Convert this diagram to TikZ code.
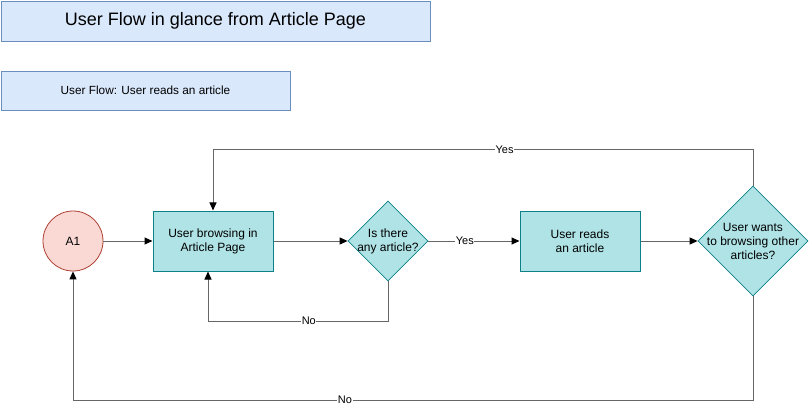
\documentclass[tikz,border=0pt]{standalone}
\usepackage{fontspec}
\setmainfont{Liberation Sans}
\usetikzlibrary{shapes.geometric,arrows.meta}
\definecolor{hdrfill}{HTML}{DAE8FC}
\definecolor{hdrline}{HTML}{6C8EBF}
\definecolor{procfill}{HTML}{B0E3E6}
\definecolor{procline}{HTML}{0E8088}
\definecolor{startfill}{HTML}{FAD9D5}
\definecolor{startline}{HTML}{AE4132}
\definecolor{edgecol}{HTML}{666666}
\tikzset{
  x=1pt, y=-1pt,
  header/.style={draw=hdrline, fill=hdrfill, line width=0.8pt, inner sep=0pt, anchor=north west},
  procbox/.style={draw=procline, fill=procfill, line width=1pt, minimum width=120pt, minimum height=60pt, inner sep=0pt, align=center, font=\fontsize{12}{14}\selectfont},
  decision/.style={diamond, draw=procline, fill=procfill, line width=0.8pt, inner sep=0pt, aspect=1},
  dtext/.style={align=center, inner sep=0pt, font=\fontsize{12}{14}\selectfont},
  startnode/.style={circle, draw=startline, fill=startfill, line width=0.8pt, minimum size=60pt, inner sep=0pt, font=\fontsize{12}{14}\selectfont},
  flow/.style={draw=edgecol, line width=1pt, -{Triangle[length=8pt,width=7pt,fill=black,color=black]}},
  edgelabel/.style={fill=white, inner sep=0.5pt, font=\fontsize{11}{13}\selectfont}
}
\begin{document}
\begin{tikzpicture}
\useasboundingbox (0,0) rectangle (809,409);
\fill[white] (0,0) rectangle (809,409);

% headers
\node[header, minimum width=429pt, minimum height=40pt] (title) at (1,1) {};
\node[font=\fontsize{18}{21}\selectfont] (titletext) at (215.5,21) {User Flow in glance from Article Page};
\node[header, minimum width=289pt, minimum height=39pt] (sub) at (1,71) {};
\node[font=\fontsize{11.8}{14}\selectfont] (subtext) at (145.5,90.5) {User Flow: User reads an article};

% flow nodes
\node[startnode] (a1) at (73,241) {A1};
\node[procbox] (browse) at (213,241) {User browsing in\\Article Page};
\node[decision, minimum size=80pt] (any) at (388,241) {};
\node[dtext] (anytext) at (any.center) {Is there\\any article?};
\node[procbox] (reads) at (580,241) {User reads\\an article};
\node[decision, minimum size=110pt] (more) at (753,241) {};
\node[dtext] (moretext) at (more.center) {User wants\\to browsing other\\articles?};

% helper points for the loops
\coordinate (nobend1) at (388,321);
\coordinate (nobend2) at (208,321);
\coordinate (yesbend1) at (753,150);
\coordinate (yesbend2) at (213,150);
\coordinate (backbend1) at (753,400);
\coordinate (backbend2) at (73,400);

% connectors
\draw[flow] (a1) -- (browse);
\draw[flow] (browse) -- (any);
\draw[flow] (any) -- node[edgelabel, pos=0.4] {Yes} (reads);
\draw[flow] (reads) -- (more);
\draw[flow] (any.south) -- (nobend1) -- node[edgelabel, pos=0.44] {No} (nobend2) -- (browse.south -| nobend2);
\draw[flow] (more.north) -- (yesbend1) -- node[edgelabel, pos=0.46] {Yes} (yesbend2) -- (browse.north);
\draw[flow] (more.south) -- (backbend1) -- node[edgelabel, pos=0.6] {No} (backbend2) -- (a1.south);
\end{tikzpicture}
\end{document}
